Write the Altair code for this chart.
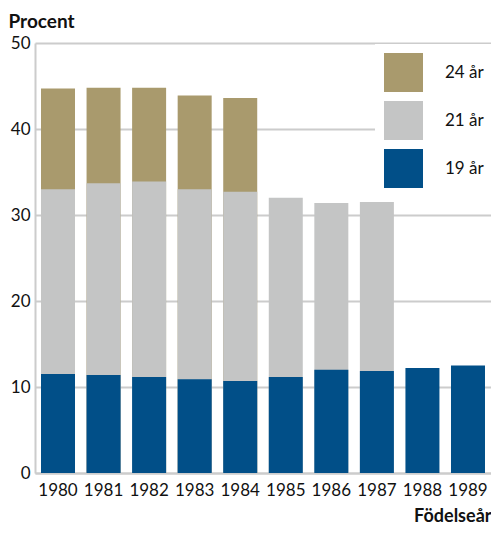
import altair as alt
import pandas as pd

years = ["1980", "1981", "1982", "1983", "1984", "1985", "1986", "1987", "1988", "1989"]
# cumulative shares (percent) by age
age19 = [11.5, 11.4, 11.15, 10.9, 10.7, 11.15, 12.0, 11.85, 12.2, 12.5]
age21 = [33.0, 33.7, 33.9, 33.0, 32.7, 32.0, 31.4, 31.5, None, None]
age24 = [44.7, 44.8, 44.8, 43.9, 43.6, None, None, None, None, None]

labels = ["24 år", "21 år", "19 år"]
colors = ["#a99a6d", "#c4c5c5", "#014f88"]

rows = []
for lab, series in zip(labels, [age24, age21, age19]):
    for y, v in zip(years, series):
        if v is not None:
            rows.append({"year": y, "age": lab, "value": v})
df = pd.DataFrame(rows)

FONT = "Lato"
W = 456
H = 430

chart = alt.Chart(df).mark_bar(size=34).encode(
    x=alt.X("year:N", sort=years,
            scale=alt.Scale(paddingInner=0.25, paddingOuter=0.13),
            axis=alt.Axis(title="Födelseår", labelAngle=0, tickSize=0, labelPadding=9,
                          labelFontSize=17, labelFont=FONT, labelColor="#111",
                          domainColor="#cccccc", domainWidth=2,
                          titleFont=FONT, titleFontSize=18, titleFontWeight="bold",
                          titleColor="#111", titleAlign="right", titleAnchor="end",
                          titleX=W, titleY=48, titleBaseline="alphabetic")),
    y=alt.Y("value:Q", stack=None,
            scale=alt.Scale(domain=[0, 50], nice=False),
            axis=alt.Axis(title="Procent", values=[0, 10, 20, 30, 40, 50], tickSize=0,
                          labelPadding=5, labelFontSize=17, labelFont=FONT, labelColor="#111",
                          domainColor="#cccccc", domainWidth=2,
                          gridColor="#cccccc", gridWidth=2,
                          titleFont=FONT, titleFontSize=19, titleFontWeight="bold",
                          titleColor="#111", titleAngle=0, titleAlign="left",
                          titleX=-27, titleY=-16, titleBaseline="alphabetic")),
    color=alt.Color("age:N", scale=alt.Scale(domain=labels, range=colors),
                    legend=alt.Legend(title=None, orient="none", legendX=340, legendY=1,
                                      symbolType="square", symbolSize=1521,
                                      symbolStrokeWidth=0, symbolOpacity=1,
                                      labelFont=FONT, labelFontSize=17, labelColor="#111",
                                      labelOffset=22, rowPadding=9, padding=9,
                                      fillColor="white")),
).properties(
    width=W, height=H,
    autosize=alt.AutoSizeParams(type="none"),
    padding={"left": 27, "top": 35, "right": 0, "bottom": 54},
).configure_view(stroke=None)

chart.save("out.html", embed_options={"renderer": "svg", "actions": False})
